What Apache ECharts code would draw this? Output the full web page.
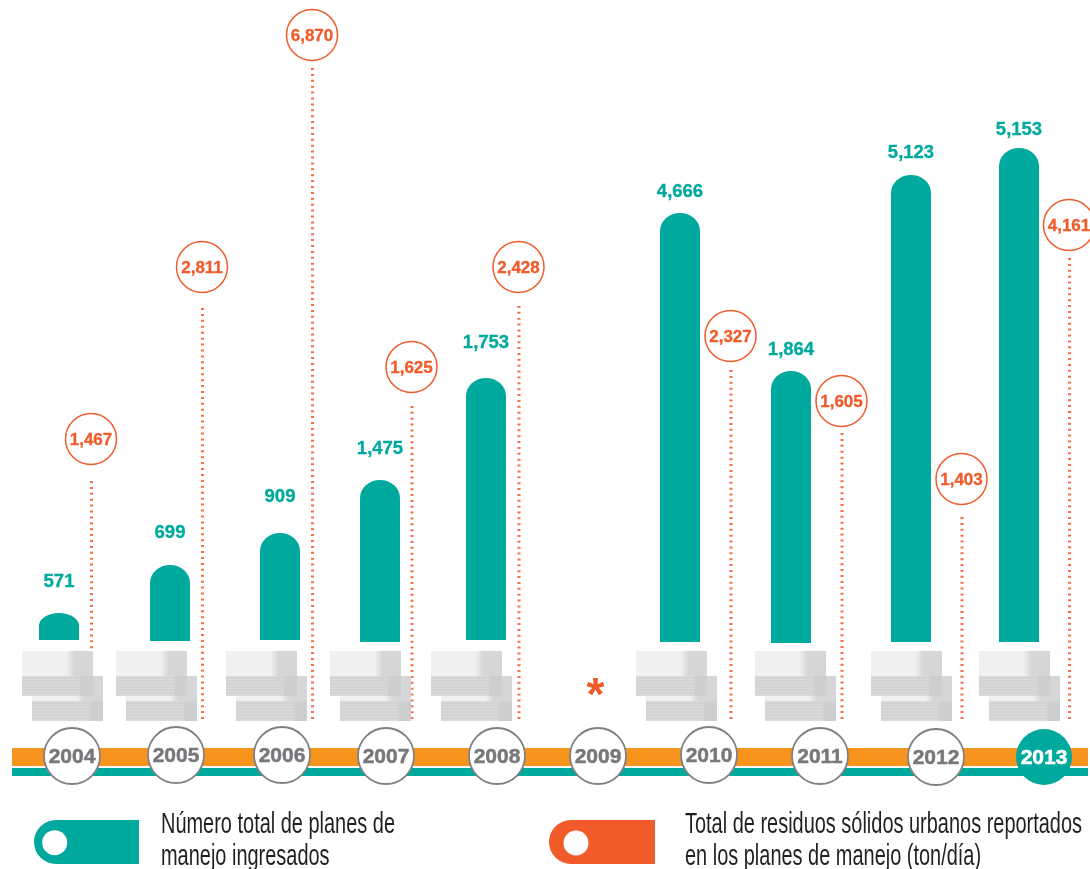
<!DOCTYPE html>
<html>
<head>
<meta charset="utf-8">
<style>html,body{margin:0;padding:0;background:#fff}#main{width:1090px;height:869px}</style>
<script src="https://cdn.jsdelivr.net/npm/echarts@6/dist/echarts.min.js"></script>
</head>
<body>
<div id="main"></div>
<script>
// datos
const years = ['2004','2005','2006','2007','2008','2009','2010','2011','2012','2013'];
const planesLabels = [571,699,909,1475,1753,null,4666,1864,5123,5153];
const residuosLabels = [1467,2811,6870,1625,2428,null,2327,1605,1403,4161];
// the infographic is not drawn to scale, so these are the lengths as drawn
const planesDrawn = [28,76,108,161,263,null,428,270,466,493];
const residuosDrawn = [236,409,649,311,411,null,347,284,200,459];

// ajustes de layout, offsets from the regular category centre
const yearNudge = [0.4,-2.8,-4,-7.2,-3.4,-9.6,-5.8,-2,6.8,7.6];
const yearDy = [0,-1,-1,0,0,0,-1,0,1,1];
const barNudge = [-12.6,-8.8,-6,-13.2,-14.4,0,-34.8,-31,-18.2,-17.4];
const barFoot = [-1,0,-1,1,-1,0,1,2,1,1];
const labelGap = [33,34,38,33,37,0,23,23,24,20];
const lineNudge = [19.9,23.7,26.5,18.8,18.6,0,16.2,20,32.8,33.1];
const circleGap = [42,41,33,39,39,0,34,32,38,33];
const stackNudge = [-49.6,-62.8,-60,-63.2,-69.4,0,-78.8,-67,-58.2,-57.4];

const TEAL = '#00a99d', RED = '#f15a29', ORANGE = '#f7941d', GREY = '#77787b';
const NUM_FONT = 'bold 17px "Liberation Sans", Arial, sans-serif';
const LEGEND_FONT = '30px "Liberation Sans", sans-serif';

const fmt = v => v.toLocaleString('en-US');

function txt(text, x, y, fill, font, stroke) {
	const style = {text: text, x: x, y: y, fill: fill, font: font, align: 'center', verticalAlign: 'middle', textAlign: 'center', textVerticalAlign: 'middle'};
	if (stroke) {
		style.stroke = fill;
		style.lineWidth = stroke;
	}
	return {type: 'text', style: style};
}

function legendText(text, x, y) {
	return {type: 'text', z: 2, x: x, y: y, scaleX: 0.665, style: {text: text, fill: '#231f20', font: LEGEND_FONT, verticalAlign: 'middle'}};
}

function renderBar(params, api) {
	const i = api.value(0), h = api.value(1);
	if (isNaN(h) || planesLabels[i] == null) return;
	const base = api.coord([i, 0]);
	const top = api.coord([i, h]);
	const cx = base[0] + barNudge[i], foot = base[1] + barFoot[i], rx = 20;
	const ry = Math.min(18, h * 0.45);
	const d = 'M' + (cx - rx) + ' ' + foot + 'L' + (cx - rx) + ' ' + (top[1] + ry) +
		'A' + rx + ' ' + ry + ' 0 0 1 ' + (cx + rx) + ' ' + (top[1] + ry) +
		'L' + (cx + rx) + ' ' + foot + 'Z';
	return {type: 'group', children: [
		{type: 'path', shape: {pathData: d}, style: {fill: TEAL}},
		txt(fmt(planesLabels[i]), cx, top[1] - labelGap[i] + 1.5, TEAL, 'bold 18.5px "Liberation Sans", Arial, sans-serif', 0.3)
	]};
}

function renderDotted(params, api) {
	const i = api.value(0), h = api.value(1);
	if (isNaN(h) || residuosLabels[i] == null) return;
	const base = api.coord([i, 0]);
	const top = api.coord([i, h]);
	const x = base[0] + lineNudge[i], cy = top[1] - circleGap[i];
	// fit the dash period so the line ends on a dash
	const period = h / Math.round(h / 5.9);
	return {type: 'group', children: [
		{type: 'line', shape: {x1: x, y1: top[1], x2: x, y2: base[1] + 2}, style: {stroke: '#f4704a', lineWidth: 3, lineDash: [2, period - 2]}},
		{type: 'circle', shape: {cx: x - 0.5, cy: cy, r: 25.5}, style: {fill: '#fff', stroke: RED, lineWidth: 1.5}},
		txt(fmt(residuosLabels[i]), x - 0.5, cy + 1, RED, NUM_FONT, 0.3)
	]};
}

function paperBlock(x, y) {
	const w = 71, topH = 25, sideH = 20;
	const kids = [
		{type: 'rect', shape: {x: x, y: y, width: w, height: topH}, style: {
			fill: new echarts.graphic.LinearGradient(0, 0, 1, 0, [
				{offset: 0, color: '#f0f0f0'}, {offset: 0.63, color: '#f0f0f0'},
				{offset: 0.74, color: '#d5d6d7'}, {offset: 1, color: '#d5d6d7'}
			])
		}},
		{type: 'rect', shape: {x: x, y: y + topH, width: w, height: sideH}, style: {fill: '#d9dadb'}},
		{type: 'rect', shape: {x: x + w * 0.82, y: y + topH, width: w * 0.18, height: sideH}, style: {fill: '#cdcecf'}}
	];
	for (let k = 2; k < sideH; k += 3) {
		kids.push({type: 'line', shape: {x1: x, y1: y + topH + k, x2: x + w * 0.82, y2: y + topH + k}, style: {stroke: '#cccdce', lineWidth: 1}});
	}
	return {type: 'group', children: kids};
}

function renderStack(params, api) {
	const i = api.value(0);
	if (planesLabels[i] == null) {
		// 2009 has no data, only the asterisk
		const c = api.coord([i, 0]);
		return txt('*', c[0] + yearNudge[i] - 2.5, 697, RED, 'bold 46px "Liberation Sans", Arial, sans-serif');
	}
	const x = api.coord([i, 0])[0] + stackNudge[i];
	return {type: 'group', children: [paperBlock(x + 10, 676), paperBlock(x, 651)]};
}

function renderYear(params, api) {
	const i = api.value(0);
	const c = api.coord([i, 0]);
	const x = c[0] + yearNudge[i], y = 756 + yearDy[i];
	const last = i === years.length - 1;
	return {type: 'group', children: [
		{type: 'circle', shape: {cx: x, cy: y, r: 28}, style: last ? {fill: TEAL} : {fill: '#fff', stroke: '#808184', lineWidth: 1.8}},
		txt(years[i], x, y + 1, last ? '#fff' : GREY, 'bold 21px "Liberation Sans", Arial, sans-serif', 0.5)
	]};
}

const idx = years.map((y, i) => i);
const myChart = echarts.init(document.getElementById('main'), null, {renderer: 'canvas'});

const option = {
	animation: false,
	backgroundColor: '#fff',
	grid: [
		{left: 18, right: 0, top: 0, height: 641},
		{left: 18, right: 0, top: 0, height: 717}
	],
	xAxis: [
		{type: 'category', gridIndex: 0, data: years, show: false},
		{type: 'category', gridIndex: 1, data: years, show: false}
	],
	yAxis: [
		{type: 'value', gridIndex: 0, min: 0, max: 641, show: false},
		{type: 'value', gridIndex: 1, min: 0, max: 717, show: false}
	],
	graphic: [
		{type: 'rect', z: 1, shape: {x: 12, y: 748, width: 1076, height: 18}, style: {fill: ORANGE}},
		{type: 'rect', z: 1, shape: {x: 12, y: 768, width: 1076, height: 8}, style: {fill: TEAL}},
		// leyenda
		{type: 'rect', z: 1, shape: {x: 34, y: 820, width: 105, height: 44, r: [22, 0, 0, 22]}, style: {fill: TEAL}},
		{type: 'circle', z: 2, shape: {cx: 54.7, cy: 842.7, r: 12.5}, style: {fill: '#fff'}},
		legendText('Número total de planes de', 161, 825),
		legendText('manejo ingresados', 161, 857),
		{type: 'rect', z: 1, shape: {x: 549, y: 820, width: 106, height: 44, r: [22, 0, 0, 22]}, style: {fill: RED}},
		{type: 'circle', z: 2, shape: {cx: 576, cy: 843, r: 12.5}, style: {fill: '#fff'}},
		legendText('Total de residuos sólidos urbanos reportados', 685, 825),
		legendText('en los planes de manejo (ton/día)', 685, 857)
	],
	series: [
		{type: 'custom', name: 'Residuos', xAxisIndex: 1, yAxisIndex: 1, z: 2, clip: false, renderItem: renderDotted, encode: {x: 0, y: 1},
			data: idx.map(i => [i, residuosDrawn[i] == null ? 0 : residuosDrawn[i]])},
		{type: 'custom', name: 'Papeles', xAxisIndex: 1, yAxisIndex: 1, z: 3, clip: false, renderItem: renderStack, encode: {x: 0, y: 1},
			data: idx.map(i => [i, 0])},
		{type: 'custom', name: 'Planes', xAxisIndex: 0, yAxisIndex: 0, z: 4, clip: false, renderItem: renderBar, encode: {x: 0, y: 1},
			data: idx.map(i => [i, planesDrawn[i] == null ? 0 : planesDrawn[i]])},
		{type: 'custom', name: 'Años', xAxisIndex: 1, yAxisIndex: 1, z: 5, clip: false, renderItem: renderYear, encode: {x: 0, y: 1},
			data: idx.map(i => [i, 0])}
	]
};
myChart.setOption(option);
</script>
</body>
</html>
